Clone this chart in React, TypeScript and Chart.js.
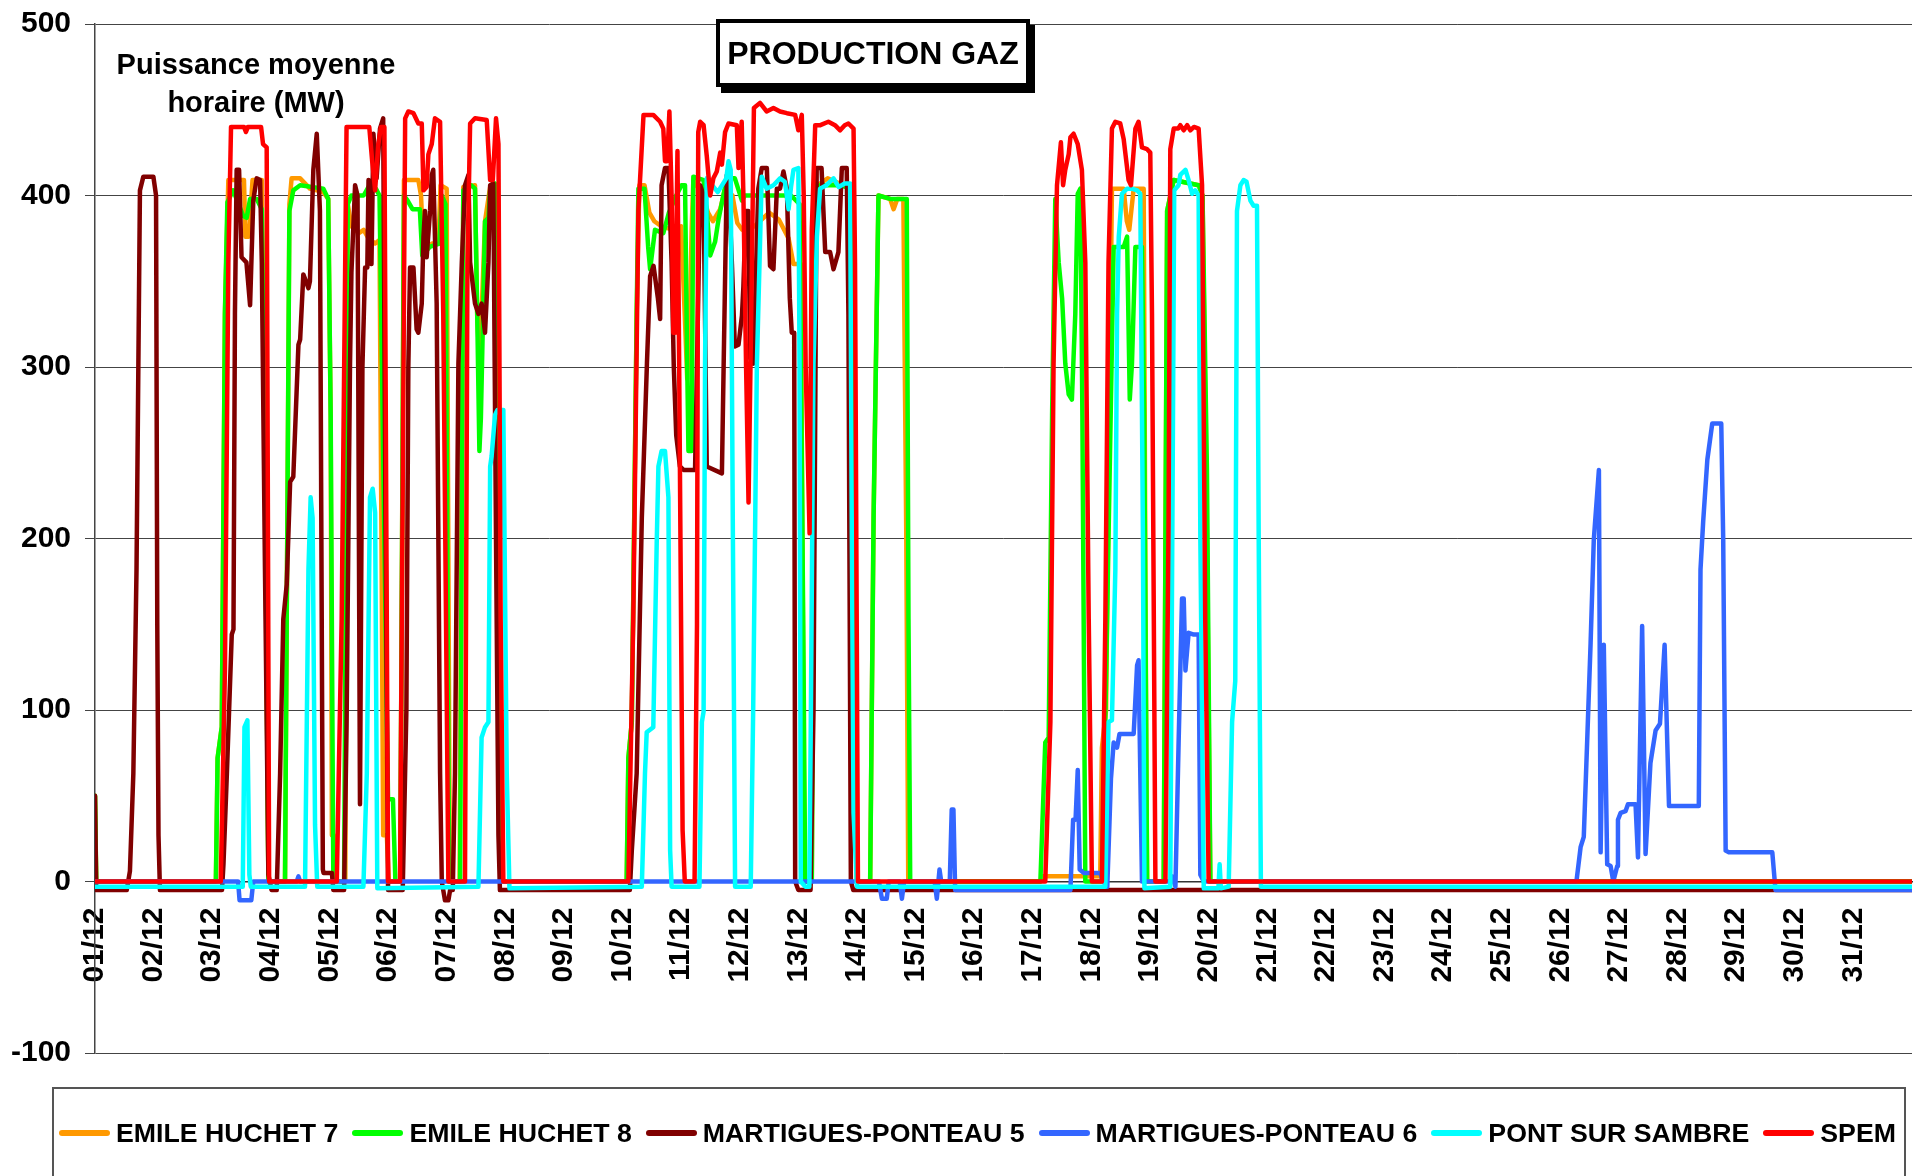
import React, { useEffect, useRef } from "react";
import { Chart, registerables } from "chart.js";

Chart.register(...registerables);

// ---- Axis / category data ----
const DAY_LABELS = [
  "01/12", "02/12", "03/12", "04/12", "05/12", "06/12", "07/12", "08/12",
  "09/12", "10/12", "11/12", "12/12", "13/12", "14/12", "15/12", "16/12",
  "17/12", "18/12", "19/12", "20/12", "21/12", "22/12", "23/12", "24/12",
  "25/12", "26/12", "27/12", "28/12", "29/12", "30/12", "31/12",
];
const HOURS_IN_MONTH = 744;
const Y_MIN = -100;
const Y_MAX = 500;
const Y_STEP = 100;

// ---- Series: [hour of month, MW] ----
const EMILE_HUCHET_7: [number, number][] = [
  [0, 50], [0.5, 0], [49.5, 0], [50.2, 72], [51.9, 90], [53.2, 331], [54.6, 409], [61, 409], [61.6, 376], [63, 376],
  [64.5, 409], [68.3, 409], [69.6, 242], [71, 0],
  [77.8, 0], [79.6, 395], [80.5, 410], [84, 410], [88, 404], [93.5, 402], [95.5, 398], [96.5, 272], [97, 27], [97.8, 27], [98.5, 0],
  [102.5, 0], [103.5, 395], [105, 382], [108, 378], [110, 380], [112, 375], [114.7, 372], [116.5, 374], [117.3, 200], [118, 27], [119.5, 27], [120.3, 0],
  [125, 0], [126.5, 409], [132.4, 409], [133.5, 400], [134.5, 366], [138, 372], [140.6, 372], [141.5, 406], [144, 404], [145.3, 0],
  [149.3, 0], [150.8, 405], [155.6, 406], [156.5, 330], [157.5, 300], [159.7, 385], [161.8, 405], [164.5, 400], [166.3, 0],
  [217.7, 0], [218.4, 72], [219.8, 93], [221.8, 331], [222.9, 406], [225, 406], [227, 390], [229, 385], [232, 382], [236.8, 380], [240, 382],
  [241.5, 330], [242.5, 293], [243.6, 330], [244.3, 380], [245, 409], [249, 400], [251, 390], [253, 385], [256, 392], [258, 404],
  [261, 400], [263, 384], [265, 380], [270, 382], [276, 390], [280, 386], [284, 375], [286, 360], [289, 360], [290.5, 0],
  [293.5, 0], [294.9, 405], [300, 410], [305, 407], [310, 405], [311, 200], [312, 0],
  [317.4, 0], [318.8, 212], [320.8, 400], [325.6, 398], [327, 392], [328.5, 398], [331, 398], [332.2, 200], [333, 0],
  [387, 0], [388, 3], [411.6, 3], [412.3, 78], [414, 100], [416.4, 404], [421.2, 404], [422.5, 385], [423.5, 380], [425.3, 404],
  [429.4, 404], [430.2, 150], [430.8, 0],
  [437.6, 0], [439, 391], [441.7, 409], [448.5, 407], [451.9, 406], [453.5, 400], [455.3, 200], [456.7, 0], [744, 0],
];

const EMILE_HUCHET_8: [number, number][] = [
  [0, 50], [0.5, 0], [49.5, 0], [50.2, 72], [51.9, 90], [53.2, 331], [54.2, 396], [56.6, 403], [60.7, 388], [62.1, 387],
  [63.5, 398], [66.2, 398], [68.3, 392], [69.6, 242], [71, 0],
  [77.8, 0], [79.6, 391], [81.2, 403], [84, 406], [93.5, 404], [95.5, 398], [96.5, 272], [97.6, 0],
  [102, 0], [103.5, 395], [105, 400], [110, 400], [112, 405], [115, 404], [116.5, 400], [117.5, 300], [120, 48], [122, 48], [123, 0],
  [125, 0], [126.5, 400], [128, 397], [130, 392], [133, 392], [134, 365], [137, 370], [141, 372], [142, 400], [143.5, 395], [145, 0],
  [149.5, 0], [150.8, 403], [154, 406], [155.6, 404], [156.5, 331], [157.4, 251], [158, 270], [159.7, 385], [161.1, 387], [161.8, 403],
  [163.8, 407], [165, 331], [166.5, 0],
  [217.7, 0], [218.4, 72], [219.8, 93], [221.8, 331], [222.5, 404], [225, 404], [226.5, 370], [227.3, 357], [229.3, 380], [232.7, 378],
  [235, 390], [238, 400], [240.2, 406], [241.6, 406], [242.5, 300], [243, 251], [244.3, 251],
  [245, 411], [249.2, 409], [250.5, 391], [251.9, 365], [253.9, 373], [255.3, 386], [258.7, 410], [262, 410], [264.9, 397],
  [266, 400], [275, 400], [280, 400], [285, 400], [288.5, 395], [290, 150], [290.8, 0],
  [293.5, 0], [294.9, 403], [297, 406], [305, 406], [310, 404], [311.2, 200], [312, 0],
  [317.4, 0], [318.8, 212], [320.8, 400], [325.6, 398], [331, 398], [332.4, 398], [333.1, 153], [333.8, 0],
  [387.1, 0], [389.1, 81], [390.5, 84], [391.9, 272], [393.2, 398], [394.6, 361], [396, 340], [397.3, 302], [398.7, 284], [400, 281],
  [401.4, 331], [402.4, 401], [403.5, 404], [404.3, 272], [405.5, 0],
  [412.3, 0], [413.5, 78], [415, 200], [417.1, 370], [421.2, 370], [422.6, 376], [423.7, 281], [424.6, 302], [426, 370], [428.7, 370],
  [429.6, 272], [430.8, 0],
  [437.6, 0], [439, 391], [441.7, 409], [448.5, 407], [451.9, 406], [453.5, 400], [455.3, 240], [456.7, 0], [744, 0],
];

const MARTIGUES_PONTEAU_5: [number, number][] = [
  [0, 50], [0.5, -5], [13, -5], [14.3, 6], [15.7, 63], [17, 182], [18.4, 403], [19.8, 411], [23.9, 411], [25, 400], [25.5, 150], [26, 27], [26.6, -5],
  [52, -5], [52.6, 10], [54, 63], [56, 144], [56.7, 147], [57.3, 331], [58, 415], [59, 415], [60, 364], [62, 361], [63.5, 336],
  [64.8, 397], [66.2, 410], [67.6, 409], [68.3, 361], [69.6, 182], [71, 4], [72.3, -5],
  [74.4, -5], [75.8, 63], [77.1, 153], [78.5, 173], [79.9, 233], [81.2, 236], [83.3, 313], [84, 316], [85.3, 354], [87.4, 346],
  [88, 350], [89.4, 415], [90.8, 436], [92.1, 391], [93.3, 7], [93.6, 5], [97, 5], [97.6, -5],
  [102, -5], [103, 90], [104.4, 300], [105, 355], [106.5, 406], [107.5, 400], [108.5, 45], [109.5, 300], [110.6, 358], [111.5, 358],
  [112, 409], [113.2, 360], [114, 436], [115.3, 410], [116.7, 439], [118, 445], [119, 200], [120, -5],
  [126, -5], [127.5, 100], [128.3, 300], [129, 358], [130.4, 358], [131.7, 322], [132.4, 320], [133.8, 337], [134.5, 376], [135.1, 391],
  [135.8, 364], [137.2, 391], [137.9, 412], [138.5, 415], [139.9, 337], [141.3, 63], [142, 0], [143.3, -11], [144.7, -11], [145.4, -5],
  [146.5, -5], [147.4, 63], [148.8, 302], [150.2, 361], [151.5, 406], [152.9, 412], [153.6, 361], [155.6, 337], [157, 331], [158.3, 337],
  [159.7, 320], [161.1, 361], [161.8, 406], [163.1, 407], [164.2, 200], [165.2, 27], [165.8, -5],
  [219, -5], [219.8, 18], [221.8, 63], [223.9, 212], [226, 302], [227.3, 353], [228.7, 359], [230.5, 340], [231.4, 328], [232, 406],
  [233.4, 416], [234.8, 416], [236.1, 361], [237, 300], [238, 260], [239.5, 242], [241, 240], [245.7, 240], [246.5, 300], [247.8, 406],
  [249.2, 400], [250.5, 242], [256.7, 238], [257.4, 300], [258.7, 412], [259.4, 409], [260.8, 360], [262, 312], [263.5, 313], [264.9, 330],
  [265.5, 347], [266.5, 391], [267.5, 391], [268.3, 305], [269.6, 302], [271.6, 404], [273, 416], [275.1, 416], [276.4, 359], [277.8, 357],
  [279.2, 404], [280.5, 404], [281.9, 414], [283.3, 404], [284.5, 340], [285.3, 320], [286.3, 320], [286.7, 0], [288, -5],
  [293, -5], [294.2, 100], [295.5, 416], [297.5, 416], [299, 367], [301, 367], [302.4, 357], [304.4, 367], [305.8, 416],
  [307.8, 416], [308.5, 331], [309.5, 0], [310.5, -5], [744, -5],
];

const MARTIGUES_PONTEAU_6: [number, number][] = [
  [0, 0], [58.6, 0], [59.2, -11], [64, -11], [64.8, 0], [82.6, 0], [83.3, 3], [84, 0],
  [321, 0], [322.2, -10], [324.2, -10], [325, 0], [329.5, 0], [330.4, -10], [331.3, 0], [343.8, 0], [344.7, -10], [345.8, 7], [346.5, 0],
  [350, 0], [350.8, 42], [351.5, 42], [352.2, -5], [399.4, -5], [400.5, 36], [401.5, 36], [402.4, 65], [403.2, 7], [404.8, 5],
  [411.6, 5], [412.8, 0], [414.5, -3], [416, 60], [417.1, 81], [418.5, 78], [419.5, 86], [425.3, 86], [426.7, 126], [427.3, 129],
  [428.7, 0], [440.3, 0], [441, 3], [442.4, -3], [443.7, 81], [445.1, 165], [445.8, 165], [446.5, 123], [447.8, 145], [449.9, 144],
  [451.9, 144], [452.6, 4], [454, 0],
  [606.6, 0], [608.3, 20], [609.6, 26], [611, 82], [612.4, 139], [613.7, 199], [615.8, 240], [616.5, 17], [617.8, 138], [619.2, 10],
  [620.6, 9], [621.7, 0], [623.3, 9], [623.6, 36], [624.7, 40], [626.7, 41], [627.7, 45], [630.8, 45], [631.8, 14], [633.5, 149],
  [634.9, 16], [636.9, 69], [639, 88], [640.8, 92], [642.7, 138], [644.5, 44], [656.7, 44], [657.4, 182], [658.5, 210], [660.2, 246],
  [662.2, 267], [665.9, 267], [666.7, 199], [667.7, 18], [669, 17], [686.8, 17], [688.1, -5], [744, -5],
];

const PONT_SUR_SAMBRE: [number, number][] = [
  [0, -3], [60.5, -3], [61.2, 90], [62.4, 94], [63.2, 4], [63.8, -3],
  [86, -3], [87.4, 182], [88.3, 224], [89.1, 212], [90.1, 33], [91, -3],
  [109.9, -3], [111.3, 63], [112.6, 224], [113.7, 229], [114.7, 215], [115.6, -4],
  [157, -3], [158.3, 84], [159.7, 90], [161.1, 93], [161.8, 242], [162.4, 248], [163.8, 272], [164.8, 275], [167.2, 275], [168.6, 63], [169.7, -4],
  [223.9, -3], [225.2, 63], [225.9, 87], [228.6, 90], [230, 197], [230.7, 242], [232, 251], [233.4, 251], [234.8, 224], [235.5, 18], [236.1, -3],
  [247.5, -3], [248.5, 93], [249.2, 99], [249.8, 302], [250.5, 410], [255, 402], [258.5, 410], [259.4, 420], [260.3, 415], [261.2, 200], [262.1, -3],
  [268.5, -3], [269.5, 100], [271, 300], [273, 411], [275, 404], [277.8, 406], [280.5, 410], [282.5, 408], [284, 392],
  [285, 405], [286, 415], [288, 416], [288.5, 300], [289, 0], [290.8, -3],
  [292.5, -3], [293.1, 93], [294.2, 302], [295.6, 376], [296.9, 404], [299.5, 406], [302.4, 410], [304.5, 405], [307, 407], [309.2, 407],
  [309.9, 200], [310.6, 40], [312, -3],
  [413.7, -3], [415, 93], [416.4, 94], [417.8, 182], [418.5, 331], [419.2, 376], [420.5, 401], [422.6, 404], [424.6, 404], [426.7, 403],
  [428, 401], [429.1, 200], [429.7, -4],
  [440.3, -3], [441.4, 272], [441.9, 403], [443.7, 406], [444.4, 412], [446.5, 415], [447.8, 409], [449.2, 401], [450.5, 403], [451.9, 400],
  [452.6, 200], [454, -4], [460, -4], [460.5, 10], [461, -4],
  [464.2, -3], [465.6, 93], [466.9, 117], [467.6, 391], [469, 406], [470.3, 409], [471.5, 408], [473.1, 397], [474.4, 394], [475.8, 394],
  [476.5, 200], [477.4, -3], [744, -3],
];

const SPEM: [number, number][] = [
  [0, 0], [51.5, 0], [53.2, 123], [54.6, 361], [55.7, 440], [61, 440], [61.8, 437], [62.6, 440], [68, 440], [68.8, 430], [70.3, 428], [71.3, 0],
  [99, 0], [101, 153], [103, 440], [112.3, 440], [113.5, 420], [114.7, 403], [116, 430], [117.1, 440], [118.5, 440], [120, 0],
  [124.9, 0], [127, 445], [128.3, 449], [130.4, 448], [132.4, 442], [133.8, 442], [134.5, 403], [135.8, 405], [136.5, 424], [137.9, 430],
  [139.2, 445], [141.3, 443], [142.6, 331], [144.7, 0],
  [151.5, 0], [152.5, 361], [153.6, 442], [155.6, 445], [160.4, 444], [161.8, 409], [162.9, 409], [164.2, 445], [165.2, 430], [166.1, 153], [167.2, 0],
  [218.4, 0], [220.4, 153], [222.5, 391], [224.6, 447], [228.6, 447], [231.4, 443], [232.7, 439], [233.4, 420], [234.3, 420], [235.2, 449],
  [236.1, 400], [236.8, 320], [237.5, 320], [238.5, 426], [239.2, 300], [240.6, 30], [241.5, 0], [245.5, 0], [246.5, 150], [247, 437],
  [247.8, 443], [249.2, 441], [250.5, 423], [251.9, 400], [253.2, 410], [254.6, 414], [256, 425], [256.7, 418], [258, 437], [259.4, 442],
  [262.8, 441], [263.5, 416], [264.8, 443], [265.5, 400], [266.6, 300], [267.6, 221], [269, 361], [269.8, 451], [272.3, 454], [275, 449],
  [277.8, 451], [280.5, 449], [283.3, 448], [286.7, 447], [288, 438], [289.4, 447], [290.2, 400], [291, 300], [292.6, 203], [293.5, 380],
  [294.9, 441], [297, 441], [300.3, 443], [303, 441], [305.1, 438], [307, 441], [308.5, 442], [310.6, 439], [311.2, 361], [312.4, 0],
  [389.1, 0], [391.2, 93], [392.5, 302], [393.9, 406], [395.5, 431], [396.4, 406], [397.3, 415], [398.7, 424], [399.4, 434], [400.7, 436],
  [402.4, 430], [404.1, 415], [405.5, 361], [406.9, 153], [408.2, 0],
  [412.3, 0], [413.7, 153], [415, 361], [416.4, 439], [417.8, 443], [419.8, 442], [421.2, 433], [423.2, 409], [424.2, 406], [426, 439],
  [427.3, 443], [428.7, 428], [430.8, 427], [432.1, 425], [432.8, 331], [434.2, 0],
  [438.3, 0], [439.6, 212], [440.3, 427], [441.7, 439], [443.5, 439], [444.4, 441], [445.8, 438], [447.2, 441], [448.5, 438], [450, 440],
  [451.9, 439], [453.3, 406], [454.6, 153], [456, 0], [744, 0],
];

const SERIES_NAMES = [
  "EMILE HUCHET 7",
  "EMILE HUCHET 8",
  "MARTIGUES-PONTEAU 5",
  "MARTIGUES-PONTEAU 6",
  "PONT SUR SAMBRE",
  "SPEM",
];
const SERIES_DATA = [
  EMILE_HUCHET_7,
  EMILE_HUCHET_8,
  MARTIGUES_PONTEAU_5,
  MARTIGUES_PONTEAU_6,
  PONT_SUR_SAMBRE,
  SPEM,
];
const SERIES_COLORS = ["#FF9900", "#00FF00", "#800000", "#3366FF", "#00FFFF", "#FF0000"];

const FONT_FAMILY = "'Liberation Sans', Arial, Helvetica, sans-serif";

export default function App() {
  const canvasRef = useRef<HTMLCanvasElement | null>(null);

  useEffect(() => {
    const canvas = canvasRef.current;
    if (!canvas) return;
    Chart.defaults.font.family = FONT_FAMILY;

    const datasets = SERIES_NAMES.map((name, i) => ({
      label: name,
      data: SERIES_DATA[i].map(([x, y]) => ({ x, y })),
      borderColor: SERIES_COLORS[i],
      backgroundColor: SERIES_COLORS[i],
      borderWidth: 4.5,
      pointRadius: 0,
      tension: 0,
      borderJoinStyle: "round" as const,
      borderCapStyle: "round" as const,
      order: SERIES_NAMES.length - i,
    }));

    const chart = new Chart(canvas, {
      type: "line",
      data: { datasets },
      options: {
        animation: false,
        responsive: false,
        events: [],
        layout: { padding: { top: 24, bottom: 123, left: 0, right: 4 } },
        plugins: {
          legend: { display: false },
          tooltip: { enabled: false },
          title: { display: false },
        },
        scales: {
          x: {
            type: "linear",
            min: 0,
            max: HOURS_IN_MONTH,
            position: { y: 0 } as any,
            afterBuildTicks: (axis: any) => {
              axis.ticks = DAY_LABELS.map((_, i) => ({ value: i * 24 }));
            },
            afterFit: (scale: any) => {
              scale.paddingTop = 0;
              scale.paddingBottom = 0;
            },
            ticks: {
              autoSkip: false,
              maxRotation: 90,
              minRotation: 90,
              padding: 26,
              color: "#000",
              font: { size: 30, weight: "bold", family: FONT_FAMILY },
              callback: (value: any) => DAY_LABELS[Math.round(Number(value) / 24)] ?? "",
            },
            grid: { display: false, drawTicks: false },
            border: { display: true, color: "#333", width: 1.5 },
          },
          y: {
            type: "linear",
            min: Y_MIN,
            max: Y_MAX,
            afterFit: (scale: any) => {
              scale.width = 95;
              scale.paddingTop = 10;
              scale.paddingBottom = 10;
            },
            ticks: {
              stepSize: Y_STEP,
              padding: 14,
              color: "#000",
              font: { size: 30, weight: "bold", family: FONT_FAMILY },
            },
            grid: { color: "#444", lineWidth: 1, drawTicks: true, tickLength: 10 },
            border: { display: true, color: "#444", width: 1.5 },
          },
        },
      },
    });

    return () => chart.destroy();
  }, []);

  return (
    <div
      style={{
        position: "absolute",
        left: 0,
        top: 0,
        width: 1916,
        height: 1176,
        overflow: "hidden",
        background: "#fff",
        fontFamily: FONT_FAMILY,
      }}
    >
      <canvas
        ref={canvasRef}
        width={1916}
        height={1176}
        style={{ position: "absolute", left: 0, top: 0, width: 1916, height: 1176 }}
      />
      <div
        style={{
          position: "absolute",
          left: 100,
          top: 45,
          width: 312,
          textAlign: "center",
          fontWeight: "bold",
          fontSize: 29,
          lineHeight: "38px",
          color: "#000",
        }}
      >
        Puissance moyenne
        <br />
        horaire (MW)
      </div>
      <div
        style={{
          position: "absolute",
          left: 716,
          top: 19,
          width: 314,
          height: 68,
          boxSizing: "border-box",
          border: "4px solid #000",
          background: "#fff",
          boxShadow: "5px 6px 0 #000",
          display: "flex",
          alignItems: "center",
          justifyContent: "center",
          fontWeight: "bold",
          fontSize: 32,
          color: "#000",
          whiteSpace: "nowrap",
        }}
      >
        PRODUCTION GAZ
      </div>
      <div
        style={{
          position: "absolute",
          left: 52,
          top: 1087,
          width: 1854,
          height: 130,
          boxSizing: "border-box",
          border: "2px solid #555",
          background: "#fff",
        }}
      >
        <div
          style={{
            position: "absolute",
            left: 5,
            top: 0,
            height: 88,
            display: "flex",
            alignItems: "center",
            whiteSpace: "nowrap",
          }}
        >
          {SERIES_NAMES.map((name, i) => (
            <div key={name} style={{ display: "flex", alignItems: "center", marginRight: 14 }}>
              <div
                style={{
                  width: 51,
                  height: 6,
                  borderRadius: 3,
                  background: SERIES_COLORS[i],
                  marginRight: 6,
                }}
              />
              <span style={{ fontWeight: "bold", fontSize: 26.7, color: "#000" }}>{name}</span>
            </div>
          ))}
        </div>
      </div>
    </div>
  );
}
